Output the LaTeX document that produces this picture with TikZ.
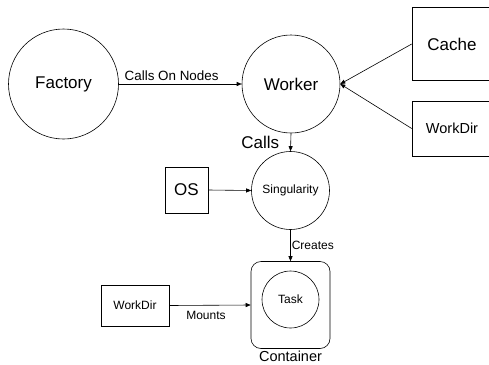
\documentclass[tikz,border=0pt]{standalone}
\usepackage{fontspec}
\setmainfont{Liberation Sans}
\usetikzlibrary{arrows.meta}

\begin{document}
\begin{tikzpicture}[x=1pt, y=-1pt, line width=0.6pt,
        proc/.style={draw, circle, inner sep=0pt},
        res/.style={draw, rectangle, inner sep=0pt},
        big/.style={font=\fontsize{17}{20}\selectfont},
        mid/.style={font=\fontsize{14.5}{17}\selectfont},
        small/.style={font=\fontsize{12}{14}\selectfont},
        link/.style={-{Triangle[length=5pt,width=4pt]}}]

                \clip (0,0) rectangle (489,364);
                \useasboundingbox (0,0) rectangle (489,364);

                \node[proc, big, minimum size=110pt] (factory) at (63.5,84) {Factory};
                \node[proc, big, minimum size=98pt] (worker) at (291,84) {Worker};
                \node[res, big, minimum width=80pt, minimum height=73pt] (cache) at (452,44) {Cache};
                \node[res, mid, minimum width=80pt, minimum height=55pt] (workdirA) at (452,128.5) {WorkDir};
                \node[proc, small, minimum size=78pt] (sing) at (290.5,190.5) {Singularity};
                \node[res, big, minimum width=43pt, minimum height=46pt] (os) at (186.5,190) {OS};
                \node[res, rounded corners=10pt, minimum width=79pt, minimum height=87pt] (container) at (290.5,305) {};
                \node[proc, small, minimum size=57pt] (task) at (290.5,299.5) {Task};
                \node[mid, anchor=north, inner sep=2pt] (clabel) at (container.south) {Container};
                \node[res, small, minimum width=68pt, minimum height=41pt] (workdirB) at (135,305.5) {WorkDir};

                \draw[link] (factory.east)--(worker.west) node[pos=0.43, above, font=\fontsize{13.4}{16}\selectfont] {Calls On Nodes};
                \draw[link] (cache.west)--(worker.east);
                \draw[link] (workdirA.west)--(worker.east);
                \draw[link] (worker.south)--(sing.north) node[midway, left, big, xshift=-8pt] {Calls};
                \draw[link] (os.east)--(sing.west);
                \draw[link] (sing.south)--(container.north) node[midway, right, small, inner sep=1pt] {Creates};
                \draw[link] (workdirB.east)--(container.west) node[midway, below, small, xshift=-4pt, yshift=-2pt] {Mounts};

\end{tikzpicture}
\end{document}
